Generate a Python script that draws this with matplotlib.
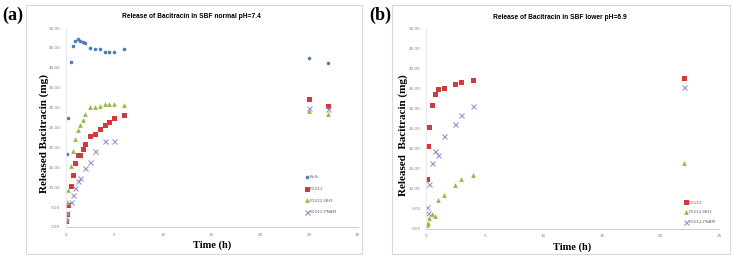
import matplotlib
matplotlib.use("Agg")
import matplotlib.pyplot as plt
from matplotlib.patches import Rectangle

# ---------------- data ----------------
# Panel (a): SBF normal pH=7.4
a_bulk_t = [0.083, 0.25, 0.5, 0.75, 1.0, 1.25, 1.5, 1.75, 2.0, 2.5, 3.0, 3.5, 4.0, 4.5, 5.0, 6.0, 25, 27]
a_bulk_v = [18.3, 27.5, 41.5, 45.6, 46.8, 47.3, 46.7, 46.6, 46.2, 45.0, 44.6, 44.8, 44.0, 44.0, 44.0, 44.6, 42.4, 41.1]

a_fdu_t = [0.05, 0.17, 0.25, 0.5, 0.75, 1.0, 1.25, 1.5, 1.75, 2.0, 2.5, 3.0, 3.5, 4.0, 4.5, 5.0, 6.0, 25, 27]
a_fdu_v = [1.5, 3.3, 5.5, 10.4, 13.1, 16.2, 18.0, 18.2, 19.6, 20.8, 22.9, 23.4, 24.6, 25.7, 26.5, 27.3, 28.1, 32.1, 30.4]

a_nh2_t = [0.05, 0.17, 0.25, 0.5, 0.75, 1.0, 1.25, 1.5, 1.75, 2.0, 2.5, 3.0, 3.5, 4.0, 4.5, 5.0, 6.0, 25, 27]
a_nh2_v = [2.6, 6.4, 9.3, 15.3, 19.1, 22.1, 24.4, 25.6, 27.0, 28.3, 30.1, 30.1, 30.4, 30.8, 30.8, 31.0, 30.7, 29.1, 28.3]

a_pnam_t = [0.05, 0.17, 0.5, 0.75, 1.0, 1.25, 1.5, 2.0, 2.5, 3.0, 4.0, 5.0, 25, 27]
a_pnam_v = [1.8, 3.4, 6.2, 8.0, 9.9, 11.5, 12.4, 14.9, 16.3, 19.0, 21.5, 21.6, 30.0, 29.7]

# Panel (b): SBF lower pH=6.9
b_fdu_t = [0.06, 0.15, 0.25, 0.5, 0.75, 1.0, 1.5, 2.5, 3.0, 4.0, 22]
b_fdu_v = [12.4, 20.7, 25.4, 31.0, 33.7, 34.9, 35.2, 36.3, 36.8, 37.2, 37.7]

b_nh2_t = [0.06, 0.15, 0.25, 0.5, 0.75, 1.0, 1.5, 2.5, 3.0, 4.0, 22]
b_nh2_v = [0.85, 1.5, 2.6, 3.8, 3.2, 7.2, 8.4, 11.0, 12.5, 13.5, 16.5]

b_pnam_t = [0.06, 0.15, 0.25, 0.5, 0.75, 1.0, 1.5, 2.5, 3.0, 4.0, 22]
b_pnam_v = [5.5, 4.0, 11.1, 16.5, 19.5, 18.4, 23.2, 26.2, 28.4, 30.7, 35.6]

y_ticks = [0, 5, 10, 15, 20, 25, 30, 35, 40, 45, 50]
y_ticklabels = ["%.2f" % v for v in y_ticks]
a_xticks = [0, 5, 10, 15, 20, 25, 30]
b_xticks = [0, 5, 10, 15, 20, 25]

titles = ["Release of Bacitracin in SBF normal pH=7.4", "Release of Bacitracin in SBF lower pH=6.9"]
ylabels = ["Released Bacitracin (mg)", "Released  Bacitracin (mg)"]
panel_labels = ["(a)", "(b)"]
names = ["Bulk", "FDU12", "FDU12-NH2", "FDU12-PNAM"]

C_BULK = "#4a7ebb"
C_FDU = "#d03a3a"
C_NH2 = "#8fbc3b"
C_PNAM = "#9b8fd0"

fig = plt.figure(figsize=(7.32, 2.59), dpi=100)
W, H = 732, 259

def fx(px):
    return px / W

def fy(py):
    return 1 - py / H

# panel frames
for x0, x1 in [(26, 362), (392, 730)]:
    fig.patches.append(Rectangle((fx(x0), fy(254)), fx(x1) - fx(x0), fy(5) - fy(254),
                                 transform=fig.transFigure, fill=False, edgecolor="#d9d9d9", lw=0.8))

axA = fig.add_axes([fx(65.7), fy(227), fx(357.6) - fx(65.7), fy(28) - fy(227)])
axB = fig.add_axes([fx(426), fy(228.7), fx(719) - fx(426), fy(29) - fy(228.7)])

ms_c, ms_s, ms_t, ms_x = 2.6, 3.6, 3.4, 3.6

axA.plot(a_bulk_t, a_bulk_v, 'o', color=C_BULK, ms=ms_c, mew=0, label=names[0])
axA.plot(a_fdu_t, a_fdu_v, 's', color=C_FDU, ms=ms_s, mew=0, label=names[1])
axA.plot(a_nh2_t, a_nh2_v, '^', color=C_NH2, ms=ms_t, mew=0, label=names[2])
axA.plot(a_pnam_t, a_pnam_v, 'x', color=C_PNAM, ms=ms_x, mew=0.8, label=names[3])

axB.plot(b_fdu_t, b_fdu_v, 's', color=C_FDU, ms=ms_s, mew=0, label=names[1])
axB.plot(b_nh2_t, b_nh2_v, '^', color=C_NH2, ms=ms_t, mew=0, label=names[2])
axB.plot(b_pnam_t, b_pnam_v, 'x', color=C_PNAM, ms=ms_x, mew=0.8, label=names[3])

setups = [(axA, a_xticks, 30, titles[0], ylabels[0], 0.43, -0.056),
          (axB, b_xticks, 25, titles[1], ylabels[1], 0.457, -0.062)]
for ax, xt, xmax, title, ylab, tx, ylx in setups:
    ax.set_xlim(0, xmax)
    ax.set_ylim(0, 50)
    ax.set_xticks(xt)
    ax.set_xticklabels([str(v) for v in xt])
    ax.set_yticks(y_ticks)
    ax.set_yticklabels(y_ticklabels)
    ax.tick_params(axis='both', length=0, labelsize=3, labelcolor="#808080", pad=4)
    for s in ["top", "right"]:
        ax.spines[s].set_visible(False)
    ax.spines["bottom"].set_color("#d0d0d0")
    ax.spines["left"].set_color("#e6e6e6")
    ax.spines["bottom"].set_linewidth(0.8)
    ax.spines["left"].set_linewidth(0.6)
    ax.set_xlabel("Time (h)", family="Liberation Serif", fontweight="bold", fontsize=7.5, labelpad=3)
    ax.set_ylabel(ylab, family="Liberation Serif", fontweight="bold", fontsize=8)
    ax.yaxis.set_label_coords(ylx, 0.47)
    ax.set_title(title, family="Liberation Sans", fontweight="bold", fontsize=4.8, pad=7, x=tx)

legA = axA.legend(loc="upper left", bbox_to_anchor=(0.815, 0.27), frameon=False, fontsize=3,
                  handlelength=0.6, handletextpad=0.3, labelspacing=1.85, borderpad=0)
legB = axB.legend(loc="upper left", bbox_to_anchor=(0.875, 0.15), frameon=False, fontsize=3,
                  handlelength=0.6, handletextpad=0.3, labelspacing=1.35, borderpad=0)
for leg in (legA, legB):
    for t in leg.get_texts():
        t.set_color("#606060")

fig.text(fx(2), fy(15), panel_labels[0], family="Liberation Serif", fontweight="bold", fontsize=13, va="center", ha="left")
fig.text(fx(369), fy(15), panel_labels[1], family="Liberation Serif", fontweight="bold", fontsize=13, va="center", ha="left")

fig.savefig("out.png", dpi=100)
